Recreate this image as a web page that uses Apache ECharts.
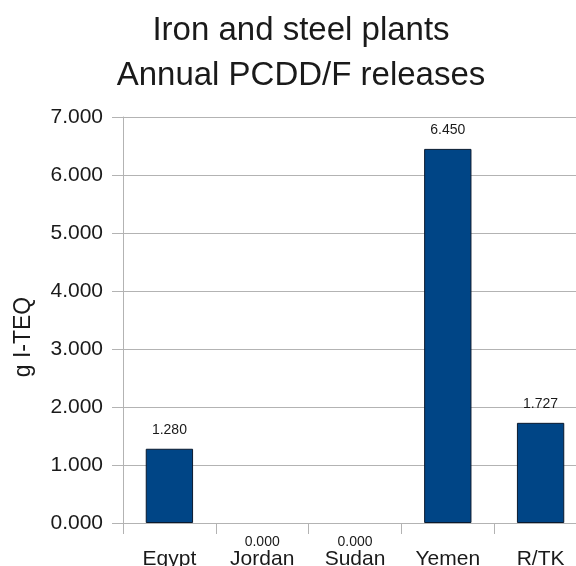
<!DOCTYPE html>
<html>
<head>
<meta charset="utf-8">
<script src="https://cdn.jsdelivr.net/npm/echarts@6/dist/echarts.min.js"></script>
<style>
  html, body { margin: 0; padding: 0; background: #fff; overflow: hidden; }
  #chart { width: 576px; height: 566px; }
</style>
</head>
<body>
<div id="chart"></div>
<script>
// Annual PCDD/F releases from iron and steel plants, g I-TEQ per country
const countries = ['Egypt', 'Jordan', 'Sudan', 'Yemen', 'R/TK'];
const releases = [1.280, 0.000, 0.000, 6.450, 1.727];
const yTicks = { min: 0, max: 7, step: 1 };

const FONT = '"Liberation Sans", Arial, sans-serif';

// zero-height bars get no outline and carry their label just under the baseline
const barData = releases.map(v => v === 0
  ? { value: v, itemStyle: { borderWidth: 0 }, label: { position: 'bottom', distance: 12 } }
  : { value: v, label: { position: 'top', distance: 12 } });

const chart = echarts.init(document.getElementById('chart'), null, { renderer: 'canvas' });
chart.setOption({
  animation: false,
  backgroundColor: '#ffffff',
  title: {
    text: 'Iron and steel plants\nAnnual PCDD/F releases',
    left: 296,
    textAlign: 'center',
    top: 3,
    textStyle: {
      fontFamily: FONT,
      fontSize: 33,
      fontWeight: 'normal',
      color: '#1a1a1a',
      lineHeight: 45
    }
  },
  // the last category runs a little past the right edge of the canvas
  grid: {
    left: 123, width: 464, top: 117, height: 406,
    containLabel: false, outerBoundsMode: 'none'
  },
  xAxis: {
    type: 'category',
    data: countries,
    boundaryGap: true,
    axisLine: { show: true, lineStyle: { color: '#b3b3b3', width: 1 } },
    axisTick: { show: true, length: 11, alignWithLabel: false, lineStyle: { color: '#b3b3b3' } },
    axisLabel: { fontFamily: FONT, fontSize: 21, color: '#1a1a1a', margin: 26, interval: 0 },
    splitLine: { show: false }
  },
  yAxis: {
    type: 'value',
    min: yTicks.min,
    max: yTicks.max,
    interval: yTicks.step,
    name: 'g I-TEQ',
    nameLocation: 'middle',
    nameGap: 88,
    nameRotate: 90,
    nameTextStyle: { fontFamily: FONT, fontSize: 23, color: '#1a1a1a', padding: [0, 34, 0, 0] },
    axisLine: { show: true, lineStyle: { color: '#b3b3b3', width: 1 } },
    axisTick: { show: true, length: 11, lineStyle: { color: '#b3b3b3' } },
    axisLabel: {
      fontFamily: FONT, fontSize: 21, color: '#1a1a1a', margin: 20,
      formatter: v => v.toFixed(3)
    },
    splitLine: { show: true, lineStyle: { color: '#b3b3b3', width: 1 } }
  },
  series: [{
    type: 'bar',
    data: barData,
    barWidth: '51%',
    itemStyle: { color: '#004586', borderColor: '#0a1a2e', borderWidth: 1 },
    label: {
      show: true,
      fontFamily: FONT,
      fontSize: 14,
      color: '#1a1a1a',
      formatter: p => p.value.toFixed(3)
    }
  }]
});
</script>
</body>
</html>
